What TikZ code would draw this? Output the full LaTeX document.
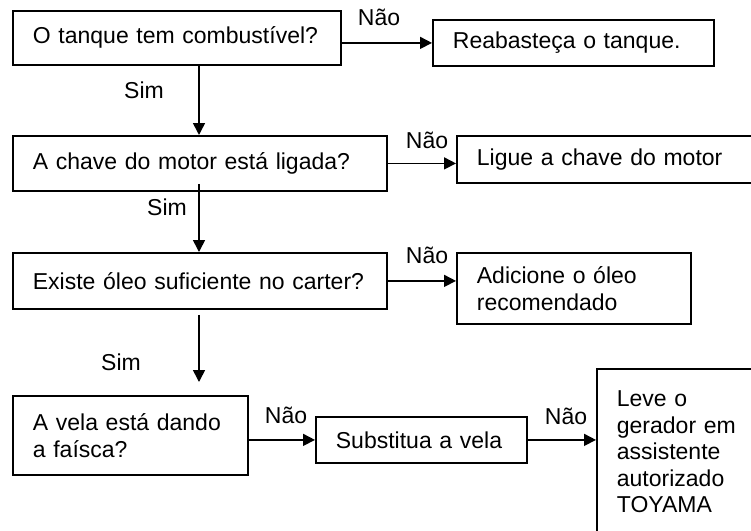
\documentclass[tikz,border=0pt]{standalone}
\usepackage{fontspec}
\setmainfont{Liberation Sans}
\usetikzlibrary{arrows.meta,calc}
\begin{document}
\begin{tikzpicture}[x=1pt,y=-1pt,
  txt/.style={font=\fontsize{23}{26.5}\selectfont},
  box/.style={txt,draw,line width=1.8pt,rectangle,anchor=north west,inner xsep=20pt,inner ysep=0pt,align=left},
  lbl/.style={txt,inner sep=0pt},
  arr/.style={line width=1.6pt,-{Triangle[length=12pt,width=12pt]}}]
\useasboundingbox (0,0) rectangle (751,530);
\clip (0,0) rectangle (751,530);
\coordinate (cx) at (199,0);
% question boxes
\node[box,text width=288pt,minimum height=54pt] (q1) at (12,10) {O tanque tem combustível?};
\node[box,text width=334pt,minimum height=55pt] (q2) at (12,135) {A chave do motor está ligada?};
\node[box,text width=334pt,minimum height=56pt] (q3) at (12,252) {Existe óleo suficiente no carter?};
\node[box,text width=195pt,minimum height=79pt] (q4) at (12,395) {A vela está dando\\a faísca?};
% action boxes
\node[box,text width=241pt,minimum height=46pt] (a1) at (432,19) {Reabasteça o tanque.};
\node[box,text width=280pt,minimum height=47pt] (a2) at (456,135) {Ligue a chave do motor};
\node[box,text width=194pt,minimum height=71pt] (a3) at (456,252) {Adicione o óleo\\recomendado};
\node[box,text width=171pt,minimum height=46pt] (a4) at (315,416) {Substitua a vela};
\node[box,text width=140pt,minimum height=166pt] (a5) at (596,368) {Leve o\\gerador em\\assistente\\autorizado\\TOYAMA};
% vertical connectors
\draw[arr] (q1.south -| cx) -- (q2.north -| cx);
\draw[arr] ($(q2.south -| cx)+(0,-8)$) -- (q3.north -| cx);
\draw[arr] ($(q3.south -| cx)+(0,5)$) -- ($(q4.north -| cx)+(0,-13)$);
% horizontal connectors
\draw[arr] (q1.east |- a1.west) -- (a1.west);
\draw[arr] (q2.east) -- (q2.east -| a2.west);
\draw[arr] (q3.east) -- (q3.east -| a3.west);
\draw[arr] (q4.east |- a4.west) -- (a4.west);
\draw[arr] (a4.east) -- (a4.east -| a5.west);
% labels
\node[lbl] (n1) at (379,17) {Não};
\node[lbl] (s1) at (144,90) {Sim};
\node[lbl] (n2) at (427,140) {Não};
\node[lbl] (s2) at (167,207) {Sim};
\node[lbl] (n3) at (427,255) {Não};
\node[lbl] (s3) at (121,362) {Sim};
\node[lbl] (n4) at (286,415) {Não};
\node[lbl] (n5) at (566,416) {Não};
\end{tikzpicture}
\end{document}
